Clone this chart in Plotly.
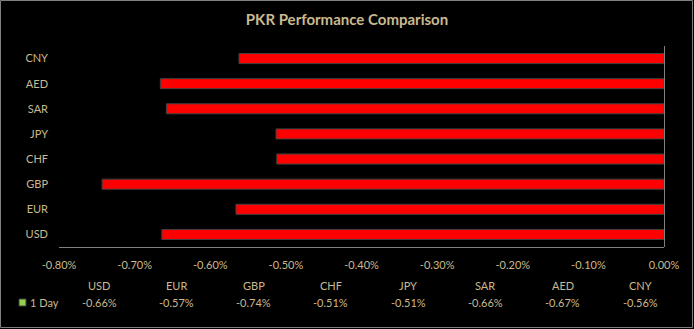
import plotly.graph_objects as go

categories = ["USD", "EUR", "GBP", "CHF", "JPY", "SAR", "AED", "CNY"]
one_day = [-0.664, -0.566, -0.743, -0.512, -0.513, -0.658, -0.666, -0.562]
x_ticks = [-0.8, -0.7, -0.6, -0.5, -0.4, -0.3, -0.2, -0.1, 0.0]
series_name = "1 Day"
title = "PKR Performance Comparison"

W, H = 694, 329
L, R, T, B = 59, 30, 46, 82
pw, ph = W - L - R, H - T - B
txt = "#C9BA8F"
font = "Lato"

def px_x(px):
    return (px - L) / pw

def px_y(py):
    return (T + ph - py) / ph

fig = go.Figure()
fig.add_trace(go.Bar(
    y=categories, x=one_day, orientation="h", width=0.4,
    marker=dict(color="#FF0000", line=dict(color="#404040", width=1)),
    showlegend=False, hoverinfo="skip",
))

fig.update_layout(
    width=W, height=H,
    margin=dict(l=L, r=R, t=T, b=B),
    paper_bgcolor="black", plot_bgcolor="black",
    font=dict(family=font, color=txt, size=11),
    title=dict(text="<b>" + title + "</b>", x=0.5, xanchor="center",
               y=1 - 20 / H, yanchor="middle",
               font=dict(family=font, size=15, color=txt)),
    bargap=0.6,
)
fig.update_xaxes(
    range=[-0.8, 0], tickvals=x_ticks,
    ticktext=[f"{v:.2f}%" for v in x_ticks],
    showgrid=False, showline=True, linecolor="#808080", linewidth=1,
    zeroline=True, zerolinecolor="#808080", zerolinewidth=1,
    ticks="", ticklabelstandoff=8, tickfont=dict(size=11, color=txt),
    fixedrange=True,
)
fig.update_yaxes(
    categoryorder="array", categoryarray=categories,
    showgrid=False, showline=False, ticks="", ticklabelstandoff=10,
    tickfont=dict(size=11, color=txt), fixedrange=True,
)

# data table below the chart
n = len(categories)
first_c, last_c = 99, 640
step = (last_c - first_c) / (n - 1)
for i, (c, v) in enumerate(zip(categories, one_day)):
    cx = px_x(first_c + i * step)
    fig.add_annotation(x=cx, y=px_y(285), xref="paper", yref="paper",
                       text=c, showarrow=False, xanchor="center", yanchor="middle",
                       font=dict(size=11, color=txt))
    fig.add_annotation(x=cx, y=px_y(302), xref="paper", yref="paper",
                       text=f"{v:.2f}%", showarrow=False, xanchor="center", yanchor="middle",
                       font=dict(size=11, color=txt))

# legend key
fig.add_shape(type="rect", xref="paper", yref="paper",
              x0=px_x(19), x1=px_x(26), y0=px_y(306), y1=px_y(299),
              fillcolor="#92D050", line=dict(color="#404040", width=1))
fig.add_annotation(x=px_x(28), y=px_y(302), xref="paper", yref="paper",
                   text=series_name, showarrow=False, xanchor="left", yanchor="middle",
                   font=dict(size=11, color=txt))

# outer border
fig.add_shape(type="rect", xref="paper", yref="paper",
              x0=px_x(0.5), x1=px_x(692.5), y0=px_y(327.5), y1=px_y(0.5),
              line=dict(color="#808080", width=1), fillcolor="rgba(0,0,0,0)")

fig.write_html("out.html")
